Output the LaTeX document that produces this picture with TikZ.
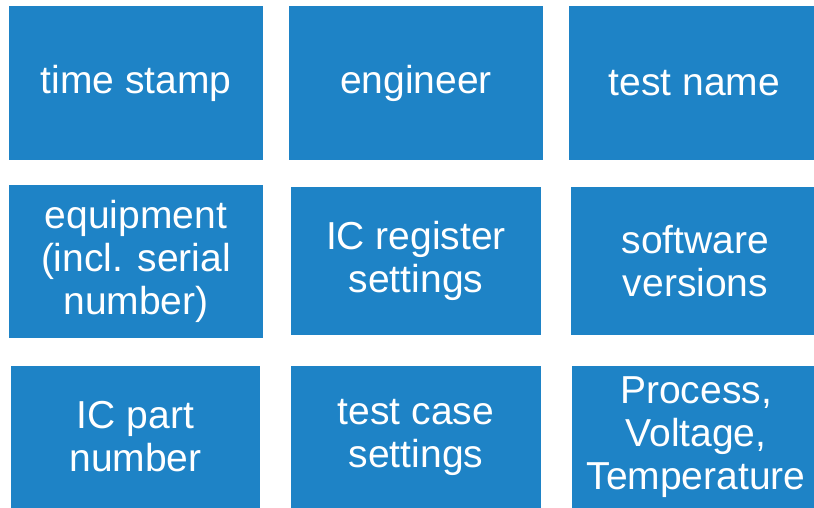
\documentclass[tikz,border=0pt]{standalone}
\usepackage{fontspec}
\setmainfont{Liberation Sans}
\usepackage{tikz}
\usetikzlibrary{positioning,calc}
\definecolor{tileblue}{RGB}{30,131,198}
\tikzset{
  tile/.style={rectangle, fill=tileblue, draw=none, inner sep=0pt,
    text=white, align=center, font=\fontsize{39}{43}\selectfont},
}

\begin{document}
\begin{tikzpicture}[x=1pt,y=-1pt]
% ==========================================
\useasboundingbox (0,0) rectangle (814,508);
%
% first row
\node[tile, minimum width=254pt, minimum height=154pt] (stamp) at (136,83) {time stamp};
\node[tile, minimum width=254pt, minimum height=154pt] (engineer) at (416,83) {engineer};
\node[tile, minimum width=251pt, minimum height=154pt] (testname) at (694.5,83) {test name};
%
% second row
\node[tile, minimum width=254pt, minimum height=153pt] (equip) at (136,261.5) {equipment\\(incl. serial\\number)};
\node[tile, minimum width=250pt, minimum height=148pt] (register) at (416,261) {IC register\\settings};
\node[tile, minimum width=249pt, minimum height=148pt] (software) at (695.5,261) {software\\versions};
%
% third row
\node[tile, minimum width=249pt, minimum height=142pt] (part) at (135.5,437) {IC part\\number};
\node[tile, minimum width=250pt, minimum height=142pt] (testcase) at (416,437) {test case\\settings};
\node[tile, minimum width=248pt, minimum height=142pt] (pvt) at (696,437) {Process,\\Voltage,\\Temperature};
% =============================================
\end{tikzpicture}
\end{document}
